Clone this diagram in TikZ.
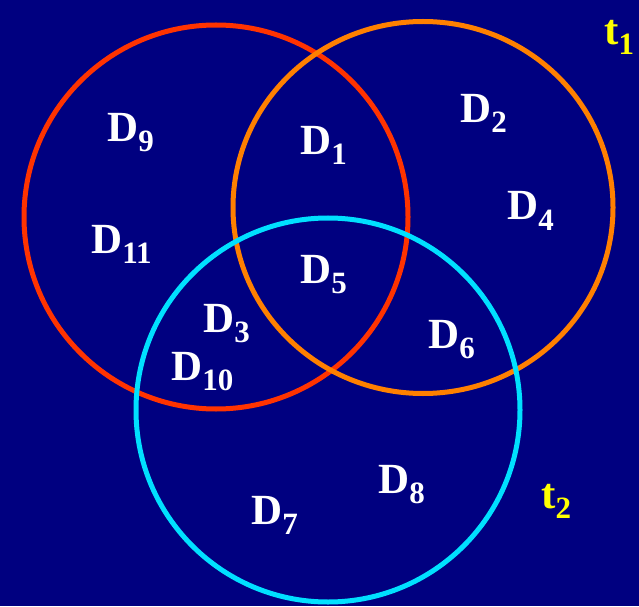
\documentclass[tikz,border=0pt]{standalone}
\usepackage{fontspec}
\setmainfont{Liberation Serif}
\definecolor{bgnavy}{RGB}{0,0,128}
\definecolor{cred}{RGB}{255,51,0}
\definecolor{corange}{RGB}{255,128,0}
\definecolor{ccyan}{RGB}{0,224,255}
\definecolor{tyellow}{RGB}{255,255,0}
\newcommand\Dsub[2]{#1\raisebox{-10pt}{\fontsize{31}{31}\selectfont #2}}
\tikzset{
  ring/.style={line width=5pt},
  lbl/.style={inner sep=0pt, anchor=base west, text=white, font=\fontsize{43}{43}\selectfont\bfseries},
  tlbl/.style={lbl, text=tyellow}
}
\begin{document}
\begin{tikzpicture}[x=1pt,y=1pt]
\fill[bgnavy] (0,0) rectangle (639,606);
\useasboundingbox (0,0) rectangle (639,606);
\draw[ring, cred] (216,389) circle (192);
\draw[ring, corange] (423,398.5) ellipse [x radius=190, y radius=186];
\draw[ring, ccyan] (328,196) circle (192);
\node[lbl] (d9) at (107,464) {\Dsub{D}{9}};
\node[lbl] (d1) at (300,451) {\Dsub{D}{1}};
\node[lbl] (d2) at (460,483) {\Dsub{D}{2}};
\node[lbl] (d4) at (507,386) {\Dsub{D}{4}};
\node[lbl] (d11) at (91,353) {\Dsub{D}{11}};
\node[lbl] (d5) at (300,323) {\Dsub{D}{5}};
\node[lbl] (d3) at (203,274) {\Dsub{D}{3}};
\node[lbl] (d6) at (428,258) {\Dsub{D}{6}};
\node[lbl] (d10) at (171,226) {\Dsub{D}{10}};
\node[lbl] (d8) at (378,113) {\Dsub{D}{8}};
\node[lbl] (d7) at (251,82) {\Dsub{D}{7}};
\node[tlbl] (t1) at (604,561) {\Dsub{t}{1}};
\node[tlbl] (t2) at (541,98) {\Dsub{t}{2}};
\end{tikzpicture}
\end{document}
